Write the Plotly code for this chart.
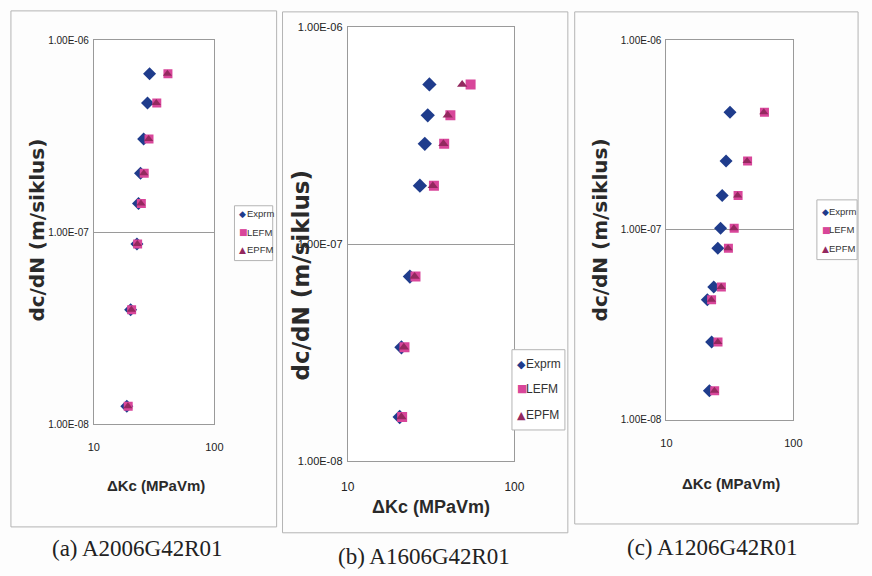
import plotly.graph_objects as go

W, H = 872, 576

# ---------------- data ----------------
tick_y_vals = [1e-8, 1e-7, 1e-6]
tick_y_text = ["1.00E-08", "1.00E-07", "1.00E-06"]
tick_x_vals = [10, 100]
tick_x_text = ["10", "100"]
series_names = ["Exprm", "LEFM", "EPFM"]
captions = ["(a) A2006G42R01", "(b) A1606G42R01", "(c) A1206G42R01"]

# (a) A2006G42R01
dcdn_a = [6.70e-7, 4.71e-7, 3.06e-7, 2.03e-7, 1.41e-7, 8.67e-8, 3.94e-8, 1.24e-8]
exprm_a = [29.0, 27.9, 25.9, 24.4, 23.5, 22.8, 20.2, 18.8]
lefm_a = [41.2, 33.3, 28.7, 26.2, 24.8, 23.1, 20.6, 19.3]
epfm_a = [40.8, 33.0, 28.5, 26.0, 24.6, 23.0, 20.5, 19.2]

# (b) A1606G42R01
dcdn_b = [5.44e-7, 3.92e-7, 2.90e-7, 1.86e-7, 7.09e-8, 3.35e-8, 1.60e-8]
exprm_b = [30.9, 30.2, 29.0, 27.1, 23.6, 21.0, 20.5]
lefm_b = [54.6, 41.3, 37.9, 32.9, 25.5, 21.9, 21.2]
epfm_b = [48.6, 39.8, 37.5, 32.4, 25.2, 21.7, 21.0]

# (c) A1206G42R01
dcdn_c = [4.17e-7, 2.31e-7, 1.52e-7, 1.02e-7, 8.02e-8, 5.00e-8, 4.29e-8, 2.57e-8, 1.42e-8]
exprm_c = [31.7, 29.5, 27.5, 26.7, 25.4, 23.6, 21.0, 22.7, 21.8]
lefm_c = [59.2, 43.6, 36.7, 34.2, 30.8, 27.1, 22.7, 25.5, 24.0]
epfm_c = [58.5, 43.2, 36.4, 34.0, 30.6, 27.0, 22.6, 25.4, 23.9]

# ---------------- styles ----------------
C_EXP = "#1f3c8c"
C_LEFM = "#d8469a"
C_EPFM = "#93295f"
GRID = "#9a9a9a"
FRAME = "#b4b4b4"


def px(x):
    return x / W


def py(y):
    return 1 - y / H


panels = [
    dict(dcdn=dcdn_a, exp=exprm_a, lefm=lefm_a, epfm=epfm_a,
         box=(88.5, 211.5, 35, 427), msize=9, tickfs=10, xtickfs=11,
         xlab_off=13, frame=(4, 275, 5, 532),
         ytitle=(31, 229, 20), xtitle=(152, 490, 15), cap=(133, 554),
         leg=dict(box=(232, 271, 204, 260), items=[212, 231, 249], fs=9.5, sfs=9)),
    dict(dcdn=dcdn_b, exp=exprm_b, lefm=lefm_b, epfm=epfm_b,
         box=(347.5, 517.5, 21.5, 465), msize=10, tickfs=11, xtickfs=12,
         xlab_off=14, frame=(281, 572, 6, 538),
         ytitle=(300, 275, 23), xtitle=(432, 512, 18), cap=(425, 562),
         leg=dict(box=(515, 569, 351, 433), items=[366, 391, 418], fs=12, sfs=11)),
    dict(dcdn=dcdn_c, exp=exprm_c, lefm=lefm_c, epfm=epfm_c,
         box=(672.5, 802, 35, 422.5), msize=9, tickfs=10, xtickfs=11,
         xlab_off=13, frame=(579, 868, 6, 529),
         ytitle=(605, 229, 20), xtitle=(738, 488, 15), cap=(720, 553),
         leg=dict(box=(826, 867, 198, 259), items=[210, 228.5, 248], fs=9.5, sfs=9)),
]

fig = go.Figure()
shapes = []
annotations = []
layout_axes = {}

for i, p in enumerate(panels):
    k = "" if i == 0 else str(i + 1)
    xa, ya = "x" + k, "y" + k
    ms = p["msize"]
    fig.add_trace(go.Scatter(x=p["exp"], y=p["dcdn"], mode="markers", name=series_names[0],
                             xaxis=xa, yaxis=ya, showlegend=False,
                             marker=dict(symbol="diamond", size=ms + 1, color=C_EXP)))
    fig.add_trace(go.Scatter(x=p["lefm"], y=p["dcdn"], mode="markers", name=series_names[1],
                             xaxis=xa, yaxis=ya, showlegend=False,
                             marker=dict(symbol="square", size=ms, color=C_LEFM)))
    fig.add_trace(go.Scatter(x=p["epfm"], y=p["dcdn"], mode="markers", name=series_names[2],
                             xaxis=xa, yaxis=ya, showlegend=False,
                             marker=dict(symbol="triangle-up", size=ms - 1, color=C_EPFM)))
    x0, x1, y0, y1 = p["box"]
    layout_axes["xaxis" + k] = dict(
        type="log", range=[1, 2], domain=[px(x0), px(x1)], anchor=ya,
        tickvals=tick_x_vals, ticktext=tick_x_text, showgrid=False, zeroline=False,
        showline=True, mirror=True, linecolor=GRID, linewidth=1, ticks="",
        ticklabelstandoff=p["xlab_off"],
        tickfont=dict(family="Liberation Sans, Arial", size=p["xtickfs"], color="#222"))
    layout_axes["yaxis" + k] = dict(
        type="log", range=[-8, -6], domain=[py(y1), py(y0)], anchor=xa,
        tickvals=tick_y_vals, ticktext=tick_y_text, showgrid=True, gridcolor=GRID,
        gridwidth=1, zeroline=False, showline=True, mirror=True, linecolor=GRID,
        linewidth=1, ticks="", ticklabelstandoff=2,
        tickfont=dict(family="Liberation Sans, Arial", size=p["tickfs"], color="#222"))

    # outer chart frame
    fx0, fx1, fy0, fy1 = p["frame"]
    shapes.append(dict(type="rect", xref="paper", yref="paper",
                       x0=px(fx0), x1=px(fx1), y0=py(fy1), y1=py(fy0),
                       line=dict(color=FRAME, width=1), layer="below"))

    # axis titles
    tx, ty, tfs = p["ytitle"]
    annotations.append(dict(text="dc/dN (m/siklus)", x=px(tx), y=py(ty), xref="paper", yref="paper",
                            textangle=-90, showarrow=False, xanchor="center", yanchor="middle",
                            font=dict(family="DejaVu Sans", size=tfs, color="#2a2a2a", weight="bold")))
    tx, ty, tfs = p["xtitle"]
    annotations.append(dict(text="ΔKc (MPaVm)", x=px(tx), y=py(ty), xref="paper", yref="paper",
                            showarrow=False, xanchor="center", yanchor="middle",
                            font=dict(family="Liberation Sans", size=tfs, color="#2a2a2a", weight="bold")))
    # caption
    cx, cy = p["cap"]
    annotations.append(dict(text=captions[i], x=px(cx), y=py(cy), xref="paper", yref="paper",
                            showarrow=False, xanchor="center", yanchor="middle",
                            font=dict(family="Liberation Serif, Times New Roman", size=23, color="#222")))

    # legend (box + entries)
    lg = p["leg"]
    lx0, lx1, ly0, ly1 = lg["box"]
    shapes.append(dict(type="rect", xref="paper", yref="paper",
                       x0=px(lx0), x1=px(lx1), y0=py(ly1), y1=py(ly0),
                       line=dict(color=FRAME, width=1), fillcolor="white"))
    syms = ["◆", "■", "▲"]
    cols = [C_EXP, C_LEFM, C_EPFM]
    for j, yy in enumerate(lg["items"]):
        annotations.append(dict(text=syms[j], x=px(lx0 + 3), y=py(yy), xref="paper", yref="paper",
                                showarrow=False, xanchor="left", yanchor="middle",
                                font=dict(family="DejaVu Sans", size=lg["sfs"], color=cols[j])))
        annotations.append(dict(text=series_names[j], x=px(lx0 + 3 + lg["sfs"] * 0.85), y=py(yy),
                                xref="paper", yref="paper", showarrow=False,
                                xanchor="left", yanchor="middle",
                                font=dict(family="Liberation Sans, Arial", size=lg["fs"], color="#333")))

fig.update_layout(
    width=W, height=H, margin=dict(l=0, r=0, t=0, b=0),
    paper_bgcolor="#fdfdfd", plot_bgcolor="white",
    shapes=shapes, annotations=annotations, showlegend=False,
    **layout_axes,
)

fig.write_html("out.html")
